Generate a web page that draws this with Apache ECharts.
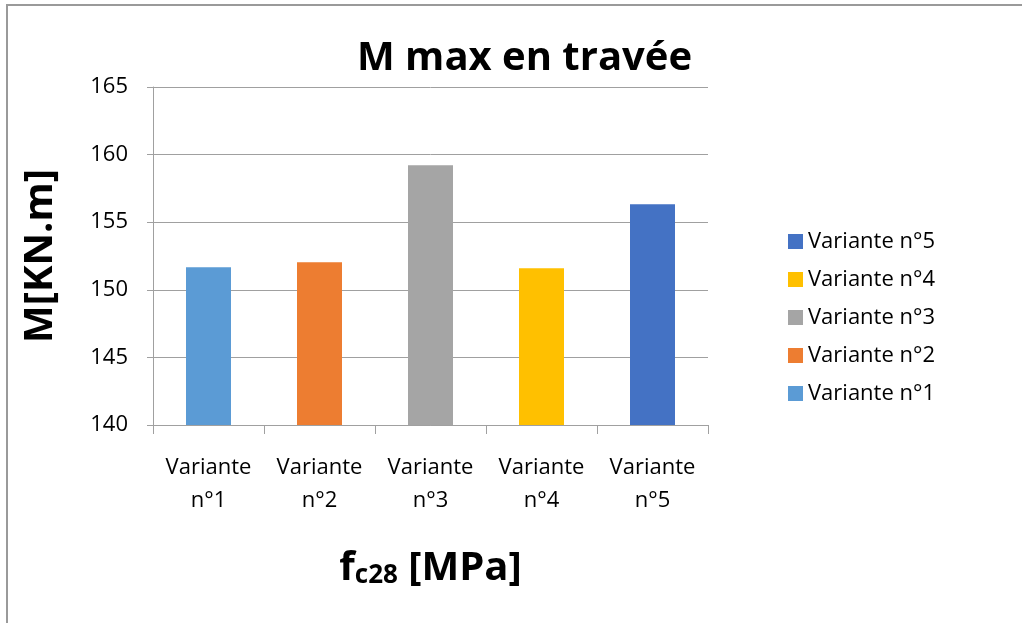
<!DOCTYPE html>
<html>
<head>
<meta charset="utf-8">
<script src="https://cdn.jsdelivr.net/npm/echarts@6/dist/echarts.min.js"></script>
<style>
  html, body { margin: 0; padding: 0; background: #ffffff; }
  #chart { width: 1022px; height: 623px; }
</style>
</head>
<body>
<div id="chart"></div>
<script>
// Categories along the x axis, one per variant
const categories = ['Variante n°1', 'Variante n°2', 'Variante n°3', 'Variante n°4', 'Variante n°5'];
// Maximum span moment for each variant, kN.m
const momentValues = [151.66, 152.03, 159.21, 151.59, 156.32];
// Y axis ticks
const yTicks = [140, 145, 150, 155, 160, 165];
// Series colours
const variantColors = ['#5b9bd5', '#ed7d31', '#a5a5a5', '#ffc000', '#4472c4'];

const FONT = '"Open Sans", "Liberation Sans", sans-serif';
const GRID_COLOR = '#a0a0a0';

// One series per variant, each holding a value only in its own category
const series = categories.map((name, i) => ({
  name: name,
  type: 'bar',
  barWidth: 45,
  barGap: '-100%',
  itemStyle: { color: variantColors[i] },
  data: categories.map((c, j) => (j === i ? momentValues[i] : '-'))
}));

const chart = echarts.init(document.getElementById('chart'), null, { renderer: 'canvas' });
chart.setOption({
  backgroundColor: '#ffffff',
  animation: false,
  textStyle: { fontFamily: FONT },
  title: {
    text: 'M max en travée',
    left: 352,
    top: 34,
    textStyle: { fontFamily: FONT, fontSize: 40, fontWeight: 'bold', color: '#000000' }
  },
  graphic: [{
    type: 'rect',
    shape: { x: 7, y: 5, width: 1100, height: 700 },
    style: { fill: 'none', stroke: '#9a9a9a', lineWidth: 2 },
    silent: true
  }],
  legend: {
    orient: 'vertical',
    left: 783,
    top: 224,
    data: categories.slice().reverse(),
    itemWidth: 15,
    itemHeight: 15,
    itemGap: 13,
    icon: 'rect',
    textStyle: { fontFamily: FONT, fontSize: 22, color: '#000000', lineHeight: 25, padding: [0, 0, 0, 0] }
  },
  grid: { left: 153, right: 314, top: 87, bottom: 198, containLabel: false, outerBoundsMode: 'none' },
  xAxis: {
    type: 'category',
    data: categories,
    axisLine: { show: true, lineStyle: { color: GRID_COLOR, width: 1 } },
    axisTick: { show: true, interval: 0, length: 9, lineStyle: { color: GRID_COLOR } },
    axisLabel: {
      interval: 0,
      hideOverlap: false,
      margin: 26,
      fontFamily: FONT,
      fontSize: 22,
      lineHeight: 33,
      color: '#000000',
      formatter: v => v.replace(' ', '\n')
    },
    name: '{f|f}{sub|c28}{m| [MPa]}',
    nameLocation: 'middle',
    nameGap: 124,
    nameTextStyle: {
      rich: {
        f: { fontFamily: FONT, fontSize: 40, fontWeight: 'bold', color: '#000', lineHeight: 40, verticalAlign: 'top' },
        m: { fontFamily: FONT, fontSize: 40, fontWeight: 'bold', color: '#000', lineHeight: 40, verticalAlign: 'top' },
        sub: { fontFamily: FONT, fontSize: 26, fontWeight: 'bold', color: '#000', lineHeight: 26, verticalAlign: 'bottom', padding: [27, 0, 0, 0] }
      }
    }
  },
  yAxis: {
    type: 'value',
    min: yTicks[0],
    max: yTicks[yTicks.length - 1],
    interval: yTicks[1] - yTicks[0],
    axisLine: { show: true, lineStyle: { color: GRID_COLOR, width: 1 } },
    axisTick: { show: true, length: 6, lineStyle: { color: GRID_COLOR } },
    splitLine: { show: true, lineStyle: { color: GRID_COLOR, width: 1 } },
    axisLabel: { margin: 25, fontFamily: FONT, fontSize: 22, color: '#000000' },
    name: 'M[KN.m]',
    nameLocation: 'middle',
    nameRotate: 90,
    nameGap: 92,
    nameTextStyle: { fontFamily: FONT, fontSize: 40, fontWeight: 'bold', color: '#000000' }
  },
  series: series
});
</script>
</body>
</html>
